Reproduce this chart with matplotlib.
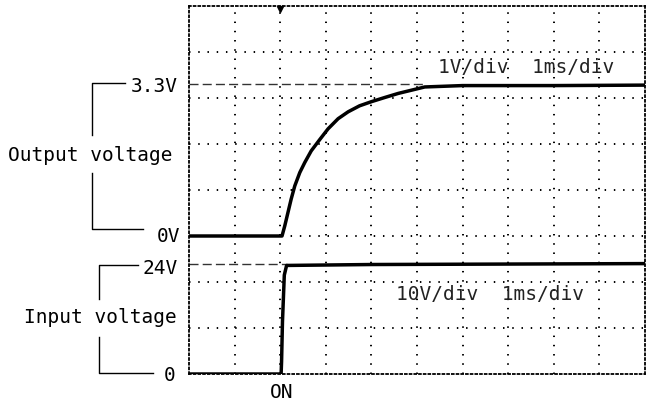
import matplotlib
matplotlib.use('Agg')
from matplotlib import pyplot as plt

# scope screen: 10 div x 1 ms, 8 div vertical
t_out = [0, 1.0, 2.04, 2.10, 2.17, 2.24, 2.32, 2.43, 2.54, 2.68, 2.87, 3.05, 3.27, 3.49,
         3.74, 4.00, 4.29, 4.59, 4.88, 5.17, 6.0, 8.0, 10.0]
v_out = [0, 0, 0, 0.22, 0.51, 0.80, 1.09, 1.38, 1.60, 1.85, 2.10, 2.33, 2.55, 2.70,
         2.83, 2.92, 3.01, 3.10, 3.17, 3.24, 3.27, 3.27, 3.28]
t_in = [0, 1.0, 2.02, 2.03, 2.05, 2.09, 2.14, 4.0, 10.0]
v_in = [0, 0, 0, 2.7, 11.4, 21.5, 23.6, 23.8, 24.0]

out_offset = 3.0   # div, where 0V of output sits
out_scale = 1.0    # V/div
in_scale = 10.0    # V/div
t_on = 2.0

out_div = [out_offset + v / out_scale for v in v_out]
in_div = [v / in_scale for v in v_in]

mono = 'DejaVu Sans Mono'
fs = 14

fig = plt.figure(figsize=(6.47, 4.05), dpi=100)
ax = fig.add_axes([189 / 647, 31 / 405, 456 / 647, 368 / 405])
ax.set_xlim(0, 10)
ax.set_ylim(0, 8)
ax.set_xticks([])
ax.set_yticks([])
for sp in ax.spines.values():
    sp.set_linestyle((0, (1, 1.6)))
    sp.set_linewidth(1.3)

# dotted graticule
dot = dict(color='black', lw=1.4, linestyle=(0, (0.75, 4.0)), zorder=1)
ax.vlines(range(1, 10), 0, 8, **dot)
ax.hlines(range(1, 8), 0, 10, **dot)

# reference levels
ax.hlines(out_offset + 3.3 / out_scale, 0, 5.2, color='#333333', lw=1.0, linestyle=(0, (6.5, 3)), zorder=2)
ax.hlines(24 / in_scale, 0, 2.15, color='#333333', lw=1.0, linestyle=(0, (6.5, 3)), zorder=2)

# traces
ax.plot(t_out, out_div, color='black', lw=2.5, solid_joinstyle='round', zorder=3)
ax.plot(t_in, in_div, color='black', lw=2.5, solid_joinstyle='round', zorder=3)

# trigger marker
ax.plot([t_on], [7.93], marker='v', color='black', markersize=5, clip_on=False, zorder=4)

# scale texts
ax.text(5.46, 6.67, '1V/div  1ms/div', fontsize=fs, family=mono, va='center', ha='left', color='#222222')
ax.text(4.54, 1.72, '10V/div  1ms/div', fontsize=fs, family=mono, va='center', ha='left', color='#222222')

# left side labels and brackets
lk = dict(color='black', lw=1.0, clip_on=False)
ax.plot([-2.13, -2.13, -1.40], [5.2, 6.33, 6.33], **lk)
ax.plot([-2.13, -2.13, -1.01], [4.37, 3.15, 3.15], **lk)
ax.plot([-1.97, -1.97, -1.12], [1.63, 2.37, 2.37], **lk)
ax.plot([-1.97, -1.97, -0.79], [0.80, 0.02, 0.02], **lk)

ax.text(-0.24, 6.24, '3.3V', fontsize=fs, family=mono, ha='right', va='center')
ax.text(-0.20, 3.0, '0V', fontsize=fs, family=mono, ha='right', va='center')
ax.text(-0.24, 2.3, '24V', fontsize=fs, family=mono, ha='right', va='center')
ax.text(-0.30, -0.04, '0', fontsize=fs, family=mono, ha='right', va='center')
ax.text(-2.16, 4.76, 'Output voltage', fontsize=fs, family=mono, ha='center', va='center')
ax.text(-1.95, 1.22, 'Input voltage', fontsize=fs, family=mono, ha='center', va='center')
ax.text(t_on + 0.04, -0.41, 'ON', fontsize=fs, family=mono, ha='center', va='center')

fig.savefig('out.png', dpi=100)
